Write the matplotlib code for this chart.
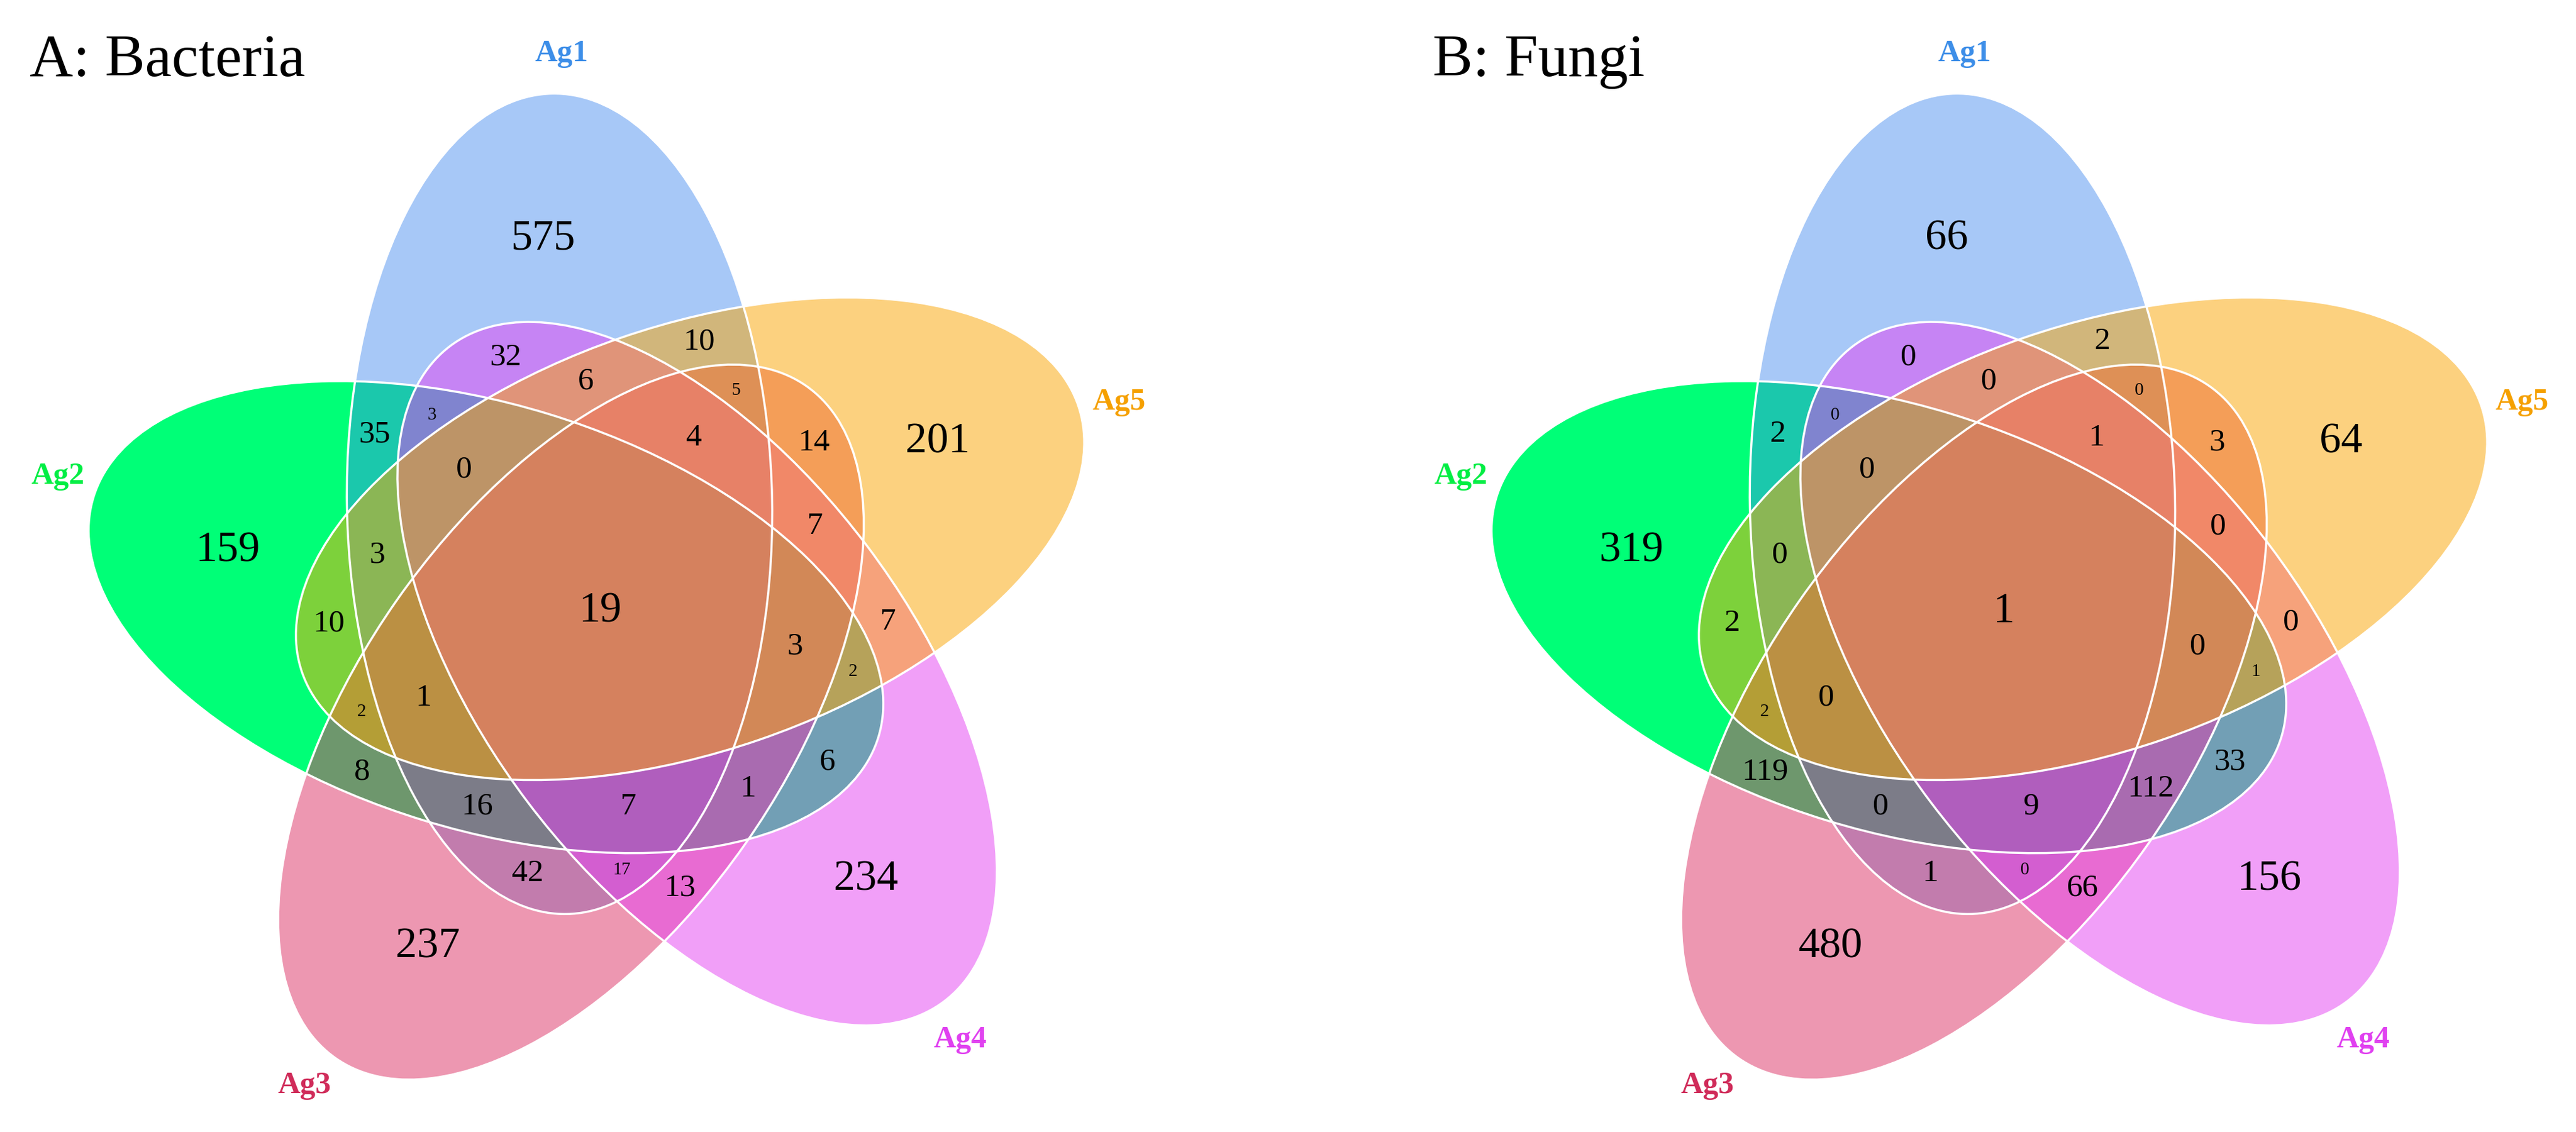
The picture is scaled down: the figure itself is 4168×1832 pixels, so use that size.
import itertools
import numpy as np
import matplotlib
matplotlib.use("Agg")
import matplotlib.pyplot as plt
from matplotlib.patches import Ellipse

# ---- data -------------------------------------------------------------
set_names = ["Ag1", "Ag2", "Ag3", "Ag4", "Ag5"]
panel_titles = ["A: Bacteria", "B: Fungi"]

# region counts keyed by the sets (1-based) the region belongs to
bacteria = {
    (1,): 575, (2,): 159, (3,): 237, (4,): 234, (5,): 201,
    (1, 2): 35, (2, 3): 8, (3, 4): 13, (4, 5): 7, (1, 5): 10,
    (1, 4): 32, (2, 5): 10, (1, 3): 42, (2, 4): 6, (3, 5): 14,
    (1, 2, 4): 3, (2, 3, 5): 2, (1, 3, 4): 17, (2, 4, 5): 2, (1, 3, 5): 5,
    (1, 4, 5): 6, (1, 2, 5): 3, (1, 2, 3): 16, (2, 3, 4): 1, (3, 4, 5): 7,
    (1, 2, 4, 5): 0, (1, 2, 3, 5): 1, (1, 2, 3, 4): 7, (2, 3, 4, 5): 3,
    (1, 3, 4, 5): 4,
    (1, 2, 3, 4, 5): 19,
}
fungi = {
    (1,): 66, (2,): 319, (3,): 480, (4,): 156, (5,): 64,
    (1, 2): 2, (2, 3): 119, (3, 4): 66, (4, 5): 0, (1, 5): 2,
    (1, 4): 0, (2, 5): 2, (1, 3): 1, (2, 4): 33, (3, 5): 3,
    (1, 2, 4): 0, (2, 3, 5): 2, (1, 3, 4): 0, (2, 4, 5): 1, (1, 3, 5): 0,
    (1, 4, 5): 0, (1, 2, 5): 0, (1, 2, 3): 0, (2, 3, 4): 112, (3, 4, 5): 0,
    (1, 2, 4, 5): 0, (1, 2, 3, 5): 0, (1, 2, 3, 4): 9, (2, 3, 4, 5): 0,
    (1, 3, 4, 5): 1,
    (1, 2, 3, 4, 5): 1,
}
panel_data = [bacteria, fungi]

# ---- style / layout ---------------------------------------------------
fill_colors = ["#3c87ee", "#00ff77", "#dd3165", "#e541f3", "#fba500"]
fill_alpha = [0.45, 1.0, 0.5, 0.5, 0.5]
draw_order = [1, 0, 2, 3, 4]          # green is painted first, opaque
label_colors = ["#3d8ee8", "#00ee44", "#d02c5a", "#e040f0", "#f5a000"]
panel_centres = [(972, 990), (3242, 990)]
title_x = [48, 2318]
ring_r, semi_a, semi_b = 186, 664, 344
W, H = 4168, 1833
serif = ["Liberation Serif", "DejaVu Serif"]


def ellipses_for(cx, cy):
    out = []
    for k in range(5):
        pos = np.deg2rad(111 + 72 * k)
        ex = cx + ring_r * np.cos(pos)
        ey = cy - ring_r * np.sin(pos)
        out.append((ex, ey, -(91 + 72 * k)))
    return out


def inside(px, py, ell):
    ex, ey, ang = ell
    t = np.deg2rad(ang)
    dx, dy = px - ex, py - ey
    u = dx * np.cos(t) + dy * np.sin(t)
    v = -dx * np.sin(t) + dy * np.cos(t)
    return (u / semi_a) ** 2 + (v / semi_b) ** 2 < 1


fig = plt.figure(figsize=(W / 100, H / 100), dpi=100)
ax = fig.add_axes([0, 0, 1, 1])
ax.set_xlim(0, W)
ax.set_ylim(H, 0)
ax.axis("off")

for p, (cx, cy) in enumerate(panel_centres):
    ells = ellipses_for(cx, cy)
    for k in draw_order:
        ex, ey, ang = ells[k]
        ax.add_patch(Ellipse((ex, ey), 2 * semi_a, 2 * semi_b, angle=ang,
                             facecolor=fill_colors[k], alpha=fill_alpha[k],
                             edgecolor="none"))
    for ex, ey, ang in ells:
        ax.add_patch(Ellipse((ex, ey), 2 * semi_a, 2 * semi_b, angle=ang,
                             facecolor="none", edgecolor="white", lw=2.5))

    # region centroids from a membership grid
    gx, gy = np.meshgrid(np.arange(cx - 900, cx + 900, 4.0),
                         np.arange(cy - 900, cy + 900, 4.0))
    masks = [inside(gx, gy, e) for e in ells]
    info = {}
    for n in range(1, 6):
        for combo in itertools.combinations(range(1, 6), n):
            m = np.ones_like(gx, dtype=bool)
            for k in range(5):
                m &= masks[k] if (k + 1) in combo else ~masks[k]
            info[combo] = (gx[m].mean(), gy[m].mean(), m.sum())
    areas = sorted(v[2] for c, v in info.items() if 1 < len(c) < 5)
    small_cut = areas[4]

    for combo, value in panel_data[p].items():
        x, y, area = info[combo]
        if len(combo) in (1, 5):
            fs = 50
        elif area <= small_cut:
            fs = 21
        else:
            fs = 37
        ax.text(x, y, str(value), fontsize=fs, family=serif,
                ha="center", va="center")

    for k, name in enumerate(set_names):
        a = np.deg2rad(94 + 72 * k)
        ax.text(cx + 905 * np.cos(a), cy - 905 * np.sin(a), name,
                fontsize=36, fontweight="bold", family=serif,
                color=label_colors[k], ha="center", va="center")

    ax.text(title_x[p], 123, panel_titles[p], fontsize=70, family=serif,
            ha="left", va="baseline")

fig.savefig("out.png", dpi=100)
